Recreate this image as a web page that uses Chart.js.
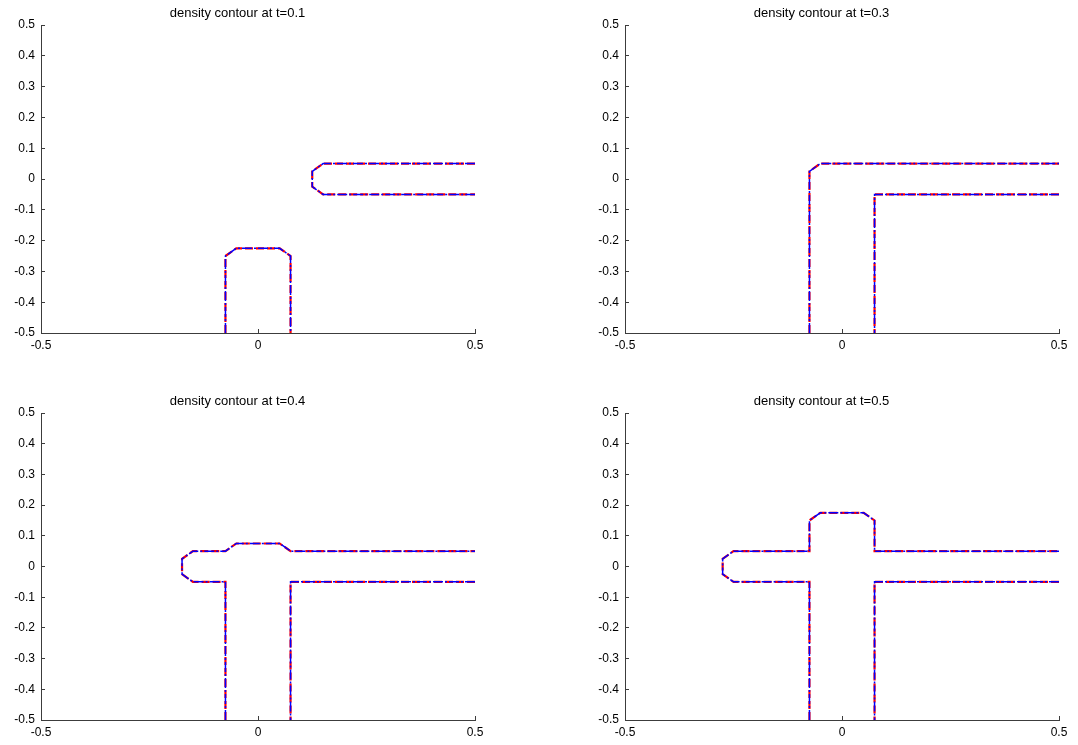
<!DOCTYPE html>
<html>
<head>
<meta charset="utf-8">
<title>density contours</title>
<script src="https://cdn.jsdelivr.net/npm/chart.js@4.4.1/dist/chart.umd.min.js"></script>
<style>
  body { margin: 0; background: #fff; }
  .panel { position: absolute; width: 490px; }
</style>
</head>
<body>
<div class="panel" style="left:0;top:0;height:350px"><canvas id="c1"></canvas></div>
<div class="panel" style="left:584px;top:0;height:350px"><canvas id="c2"></canvas></div>
<div class="panel" style="left:0;top:388px;height:349px"><canvas id="c3"></canvas></div>
<div class="panel" style="left:584px;top:388px;height:349px"><canvas id="c4"></canvas></div>
<script>
// tick labels
const xTickValues = [-0.5, 0, 0.5];
const yTickValues = [-0.5, -0.4, -0.3, -0.2, -0.1, 0, 0.1, 0.2, 0.3, 0.4, 0.5];
const titles = [
  "density contour at t=0.1",
  "density contour at t=0.3",
  "density contour at t=0.4",
  "density contour at t=0.5",
];

// t = 0.1 : rising stem + incoming arm on the right
const stemX01 = [-0.075, -0.075, -0.05, 0.05, 0.075, 0.075];
const stemY01 = [-0.5, -0.25, -0.225, -0.225, -0.25, -0.5];
const armX01 = [0.5, 0.15, 0.125, 0.125, 0.15, 0.5];
const armY01 = [0.05, 0.05, 0.025, -0.025, -0.05, -0.05];

// t = 0.3 : stem and arm have merged
const upperX03 = [-0.075, -0.075, -0.05, 0.5];
const upperY03 = [-0.5, 0.025, 0.05, 0.05];
const lowerX03 = [0.5, 0.075, 0.075];
const lowerY03 = [-0.05, -0.05, -0.5];

// t = 0.4
const upperX04 = [-0.075, -0.075, -0.15, -0.175, -0.175, -0.15, -0.075, -0.05, 0.05, 0.075, 0.5];
const upperY04 = [-0.5, -0.05, -0.05, -0.025, 0.025, 0.05, 0.05, 0.075, 0.075, 0.05, 0.05];
const lowerX04 = [0.5, 0.075, 0.075];
const lowerY04 = [-0.05, -0.05, -0.5];

// t = 0.5
const upperX05 = [-0.075, -0.075, -0.25, -0.275, -0.275, -0.25, -0.075, -0.075, -0.05, 0.05, 0.075, 0.075, 0.5];
const upperY05 = [-0.5, -0.05, -0.05, -0.025, 0.025, 0.05, 0.05, 0.15, 0.175, 0.175, 0.15, 0.05, 0.05];
const lowerX05 = [0.5, 0.075, 0.075];
const lowerY05 = [-0.05, -0.05, -0.5];

const panels = [
  { id: "c1", paths: [[stemX01, stemY01], [armX01, armY01]] },
  { id: "c2", paths: [[upperX03, upperY03], [lowerX03, lowerY03]] },
  { id: "c3", paths: [[upperX04, upperY04], [lowerX04, lowerY04]] },
  { id: "c4", paths: [[upperX05, upperY05], [lowerX05, lowerY05]] },
];

const toPoints = (xs, ys) => xs.map((x, i) => ({ x: x, y: ys[i] }));

const axisColor = "#3c3c3c";
const font = { family: "'Liberation Sans', Arial, sans-serif", size: 12 };

const makeChart = (panel, title) => {
  const datasets = [];
  // blue dash-dot on top
  panel.paths.forEach((p) => {
    datasets.push({
      data: toPoints(p[0], p[1]),
      borderColor: "#0000ff",
      borderWidth: 1.5,
      borderDash: [10, 2, 2, 2],
      order: 0,
    });
  });
  // red dashed underneath
  panel.paths.forEach((p) => {
    datasets.push({
      data: toPoints(p[0], p[1]),
      borderColor: "#ff0000",
      borderWidth: 2.2,
      borderDash: [8, 3],
      order: 1,
    });
  });

  return new Chart(document.getElementById(panel.id), {
    type: "line",
    data: { datasets: datasets },
    options: {
      responsive: true,
      maintainAspectRatio: false,
      animation: false,
      layout: { padding: { left: 0, right: 15, top: 0, bottom: 0 } },
      elements: {
        point: { radius: 0, hoverRadius: 0 },
        line: { tension: 0, fill: false },
      },
      plugins: {
        legend: { display: false },
        tooltip: { enabled: false },
        title: {
          display: true,
          text: title,
          color: "#000",
          font: { family: font.family, size: 13, weight: "normal" },
          padding: { top: 6, bottom: 3.4 },
        },
      },
      scales: {
        x: {
          type: "linear",
          min: -0.5,
          max: 0.5,
          afterBuildTicks: (scale) => {
            scale.ticks = xTickValues.map((v) => ({ value: v }));
          },
          afterFit: (scale) => {
            scale.height = 17;
            scale.paddingLeft = 0;
            scale.paddingRight = 0;
          },
          border: { display: true, color: axisColor, width: 1 },
          grid: {
            drawOnChartArea: false,
            drawTicks: true,
            tickLength: -4,
            tickColor: axisColor,
          },
          ticks: { color: "#000", font: font, padding: 9, maxRotation: 0 },
        },
        y: {
          type: "linear",
          min: -0.5,
          max: 0.5,
          afterBuildTicks: (scale) => {
            scale.ticks = yTickValues.map((v) => ({ value: v }));
          },
          afterFit: (scale) => {
            scale.width = 41;
            scale.paddingTop = 0;
            scale.paddingBottom = 0;
          },
          border: { display: true, color: axisColor, width: 1 },
          grid: {
            drawOnChartArea: false,
            drawTicks: true,
            tickLength: -4,
            tickColor: axisColor,
          },
          ticks: { color: "#000", font: font, padding: 10 },
        },
      },
    },
  });
};

panels.forEach((panel, i) => makeChart(panel, titles[i]));
</script>
</body>
</html>
